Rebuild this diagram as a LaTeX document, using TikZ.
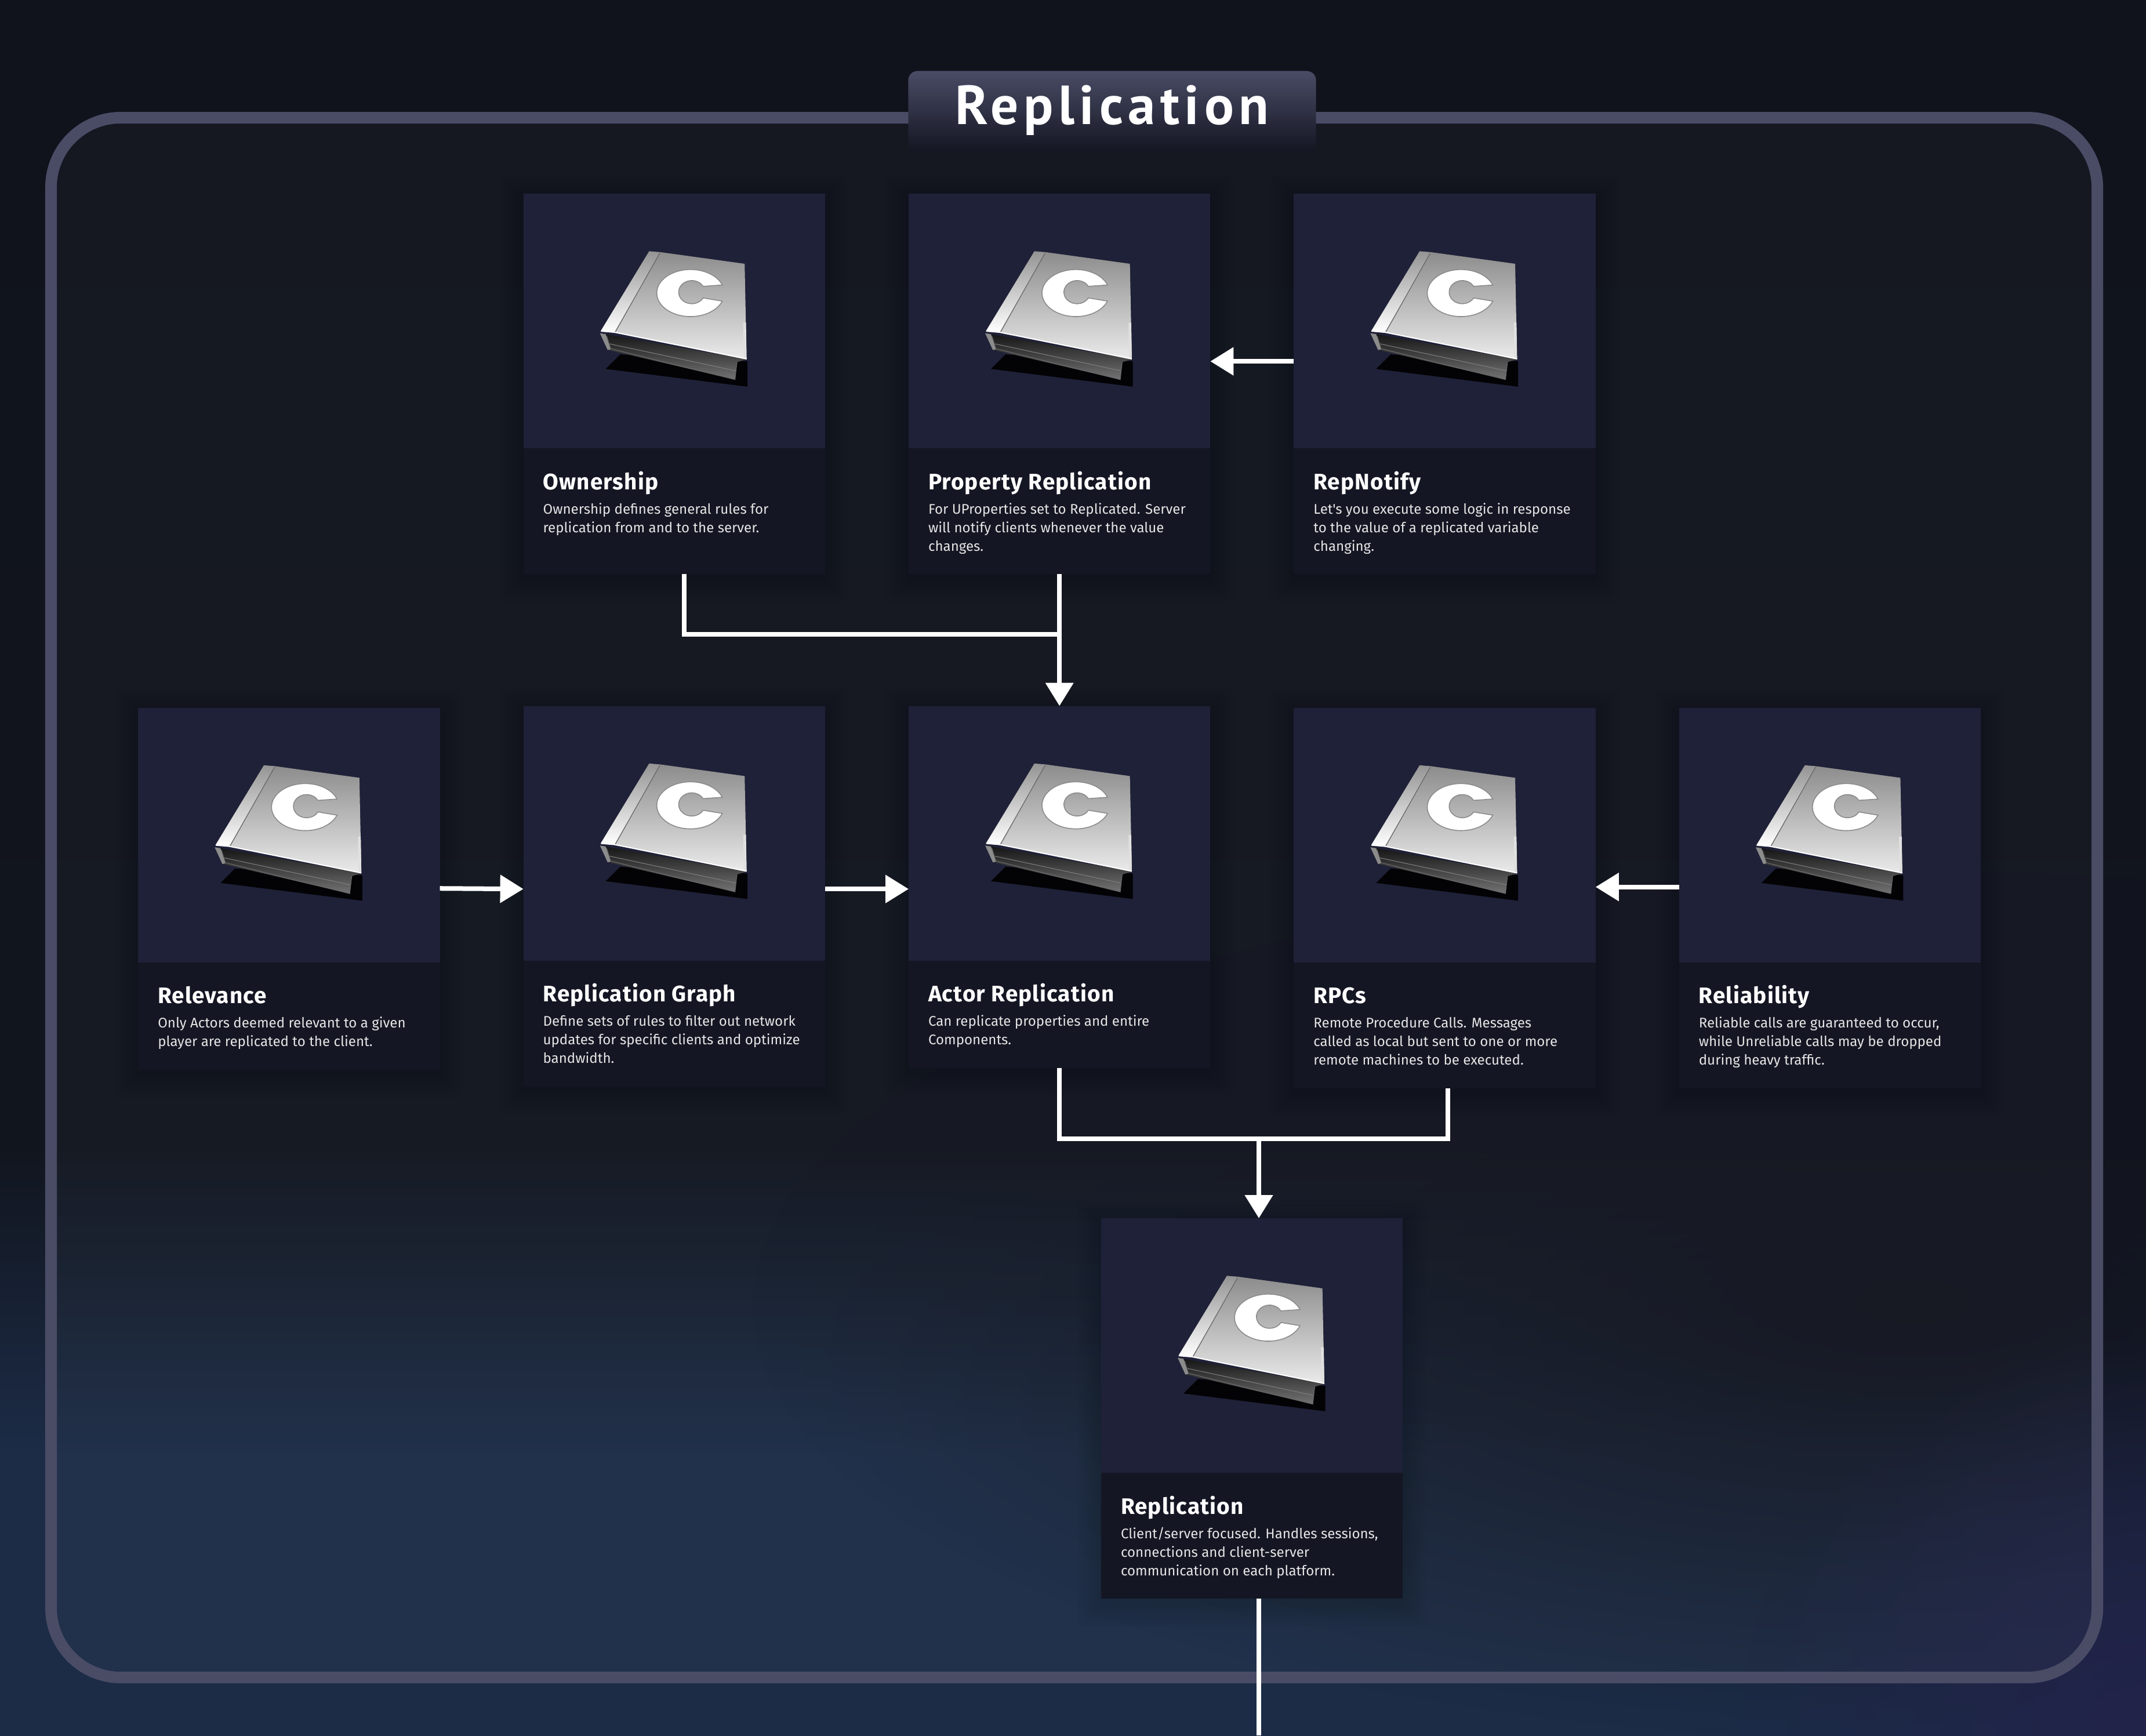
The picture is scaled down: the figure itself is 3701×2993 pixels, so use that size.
\documentclass[tikz,border=0pt]{standalone}
\usepackage{fontspec}
\setmainfont{Fira Sans}
\newfontfamily\bannerfont[LetterSpace=9]{PT Sans}
\newfontfamily\headfont[LetterSpace=3]{Fira Sans}
\newfontfamily\bodyfont{Fira Sans}
\usetikzlibrary{positioning,arrows.meta,fadings}

\definecolor{bgtop}{HTML}{10131C}
\definecolor{bgmid}{HTML}{11151E}
\definecolor{bgblue}{HTML}{1C2C47}
\definecolor{bgdark}{HTML}{12141E}
\definecolor{bgviolet}{HTML}{22234A}
\definecolor{framecol}{HTML}{4A4C66}
\definecolor{imgcol}{HTML}{1F2138}
\definecolor{txtcol}{HTML}{141623}

\pgfdeclarelayer{bg}
\pgfdeclarelayer{shade}
\pgfsetlayers{bg,shade,main}
\pgfdeclareverticalshading{pagebg}{100bp}{color(0bp)=(bgblue); color(33bp)=(bgblue); color(42bp)=(bgmid); color(75bp)=(bgtop); color(100bp)=(bgtop)}
\tikzfading[name=blob,inner color=transparent!0,outer color=transparent!100]

% text part of a card: height, title, lines
\newcommand{\cardtext}[3]{\parbox[t][#1][t]{5.2cm}{\leftskip=.34cm\relax
	{\headfont\bfseries\fontsize{11}{12}\selectfont\color{white}\rule{0pt}{.71cm}#2\par}
	\vspace{.1cm}
	{\bodyfont\fontsize{6.85}{9.1}\selectfont\color{white!90!black}#3\par}}}

\tikzset{
	img/.style = {fill=imgcol, minimum width=5.2cm, minimum height=4.39cm, inner sep=0pt, outer sep=0pt},
	txt/.style = {fill=txtcol, inner sep=0pt, outer sep=0pt},
	wire/.style = {draw=white, line width=.08cm},
	flow/.style = {wire, -{Triangle[length=.4cm,width=.47cm]}},
	book/.pic = {
		\begin{scope}[x=.0033333cm,y=-.0033333cm]
			\fill[black!90!imgcol] (210,695) -- (135,770) -- (870,862) -- (870,730) -- cycle;
			\shade[top color=black!92, bottom color=black!55] (105,585) -- (865,720) -- (815,735) -- (805,825) -- (150,672) -- cycle;
			\draw[black!50, line width=.01cm] (155,640) -- (810,780);
			\draw[black!60, line width=.012cm] (140,600) -- (160,665) -- (805,825) -- (815,735);
			\fill[black!45] (105,585) -- (135,590) -- (160,668) -- (145,672) -- cycle;
			\shade[top color=black!45, bottom color=black!8] (420,165) -- (855,225) -- (865,720) -- (180,580) -- cycle;
			\shade[top color=black!42, bottom color=white] (360,160) -- (420,165) -- (180,580) -- (110,572) -- cycle;
			\draw[black!60, line width=.012cm] (415,170) -- (185,578);
			\fill[black!12] (848,530) -- (862,530) -- (865,720) -- (850,716) -- cycle;
			\draw[white, line width=.02cm] (110,574) -- (180,580) -- (865,718);
			\fill[white, draw=black!45, line width=.016cm] (739,335) arc[start angle=-20, end angle=-340, x radius=175, y radius=122]
				-- (640,402) arc[start angle=30, end angle=330, x radius=68, y radius=60] -- cycle;
		\end{scope}
	}
}

\begin{document}
\begin{tikzpicture}[x=.01cm,y=-.01cm]
	\useasboundingbox (0,0) rectangle (3701,2993);

	\begin{pgfonlayer}{bg}
		\begin{scope}
			\clip (0,0) rectangle (3701,2993);
			\shade[shading=pagebg] (0,0) rectangle (3701,2993);
			\fill[bgdark, path fading=blob] (3300,2250) ellipse [x radius=2000, y radius=750];
			\fill[bgviolet, path fading=blob] (3701,2993) circle [radius=700];
		\end{scope}
		\draw[framecol, line width=.2cm, rounded corners=1.2cm, fill=white, fill opacity=.022] (88,203) rectangle (3617,2893);
	\end{pgfonlayer}

	\node[top color=framecol, bottom color=txtcol!90!bgtop, rounded corners=.16cm, minimum width=7.03cm, inner sep=0pt, outer sep=0pt, text height=.92cm, text depth=.47cm, text=white, font=\bannerfont\bfseries\fontsize{27}{30}\selectfont] (banner) at (1918,192) {Replication};

	% top row
	\node[img, anchor=north west] (prop) at (1567,334) {};
	\node[img, left=1.44cm of prop] (own) {};
	\node[img, right=1.44cm of prop] (repn) {};
	\node[txt, below=0pt of own] (ownt) {\cardtext{2.17cm}{Ownership}{Ownership defines general rules for\\replication from and to the server.}};
	\node[txt, below=0pt of prop] (propt) {\cardtext{2.17cm}{Property Replication}{For UProperties set to Replicated. Server\\will notify clients whenever the value\\changes.}};
	\node[txt, below=0pt of repn] (repnt) {\cardtext{2.17cm}{RepNotify}{Let's you execute some logic in response\\to the value of a replicated variable\\changing.}};

	% middle row
	\node[img, below=2.27cm of propt] (actor) {};
	\node[img, left=1.44cm of actor] (graph) {};
	\node[img, left=1.44cm of graph, yshift=-.03cm] (rele) {};
	\node[img, right=1.44cm of actor, yshift=-.03cm] (rpc) {};
	\node[img, right=1.44cm of rpc] (reli) {};
	\node[txt, below=0pt of rele] (relet) {\cardtext{1.85cm}{Relevance}{Only Actors deemed relevant to a given\\player are replicated to the client.}};
	\node[txt, below=0pt of graph] (grapht) {\cardtext{2.17cm}{Replication Graph}{Define sets of rules to filter out network\\updates for specific clients and optimize\\bandwidth.}};
	\node[txt, below=0pt of actor] (actort) {\cardtext{1.85cm}{Actor Replication}{Can replicate properties and entire\\Components.}};
	\node[txt, below=0pt of rpc] (rpct) {\cardtext{2.17cm}{RPCs}{Remote Procedure Calls. Messages\\called as local but sent to one or more\\remote machines to be executed.}};
	\node[txt, below=0pt of reli] (relit) {\cardtext{2.17cm}{Reliability}{Reliable calls are guaranteed to occur,\\while Unreliable calls may be dropped\\during heavy traffic.}};

	% bottom card
	\node[img, anchor=north west] (repl) at (1899,2101) {};
	\node[txt, below=0pt of repl] (replt) {\cardtext{2.17cm}{Replication}{Client/server focused. Handles sessions,\\connections and client-server\\communication on each platform.}};

	\foreach \c in {own,prop,repn,rele,graph,actor,rpc,reli,repl}
		\pic at ([shift={(.97cm,-.46cm)}]\c.north west) {book};

	\begin{pgfonlayer}{shade}
		\foreach \a/\b in {own/ownt,prop/propt,repn/repnt,rele/relet,graph/grapht,actor/actort,rpc/rpct,reli/relit,repl/replt}
			\foreach \w in {5,12,19,26,33,40}
				\fill[black, opacity=.02, rounded corners=.1cm] ([shift={(-\w,-\w+8)}]\a.north west) rectangle ([shift={(\w,\w+8)}]\b.south east);
	\end{pgfonlayer}

	\coordinate (merge) at ([yshift=-1.04cm]propt.south);
	\coordinate (meet) at (2171,1964);
	\coordinate (out) at (2171,2993);

	\draw[flow] ([yshift=-.695cm]repn.west) -- ([yshift=-.695cm]prop.east);
	\draw[wire] ([xshift=.17cm]ownt.south) |- (merge);
	\draw[flow] (propt.south) -- (actor.north);
	\draw[flow] ([yshift=-.92cm]rele.east) -- ([yshift=-.96cm]graph.west);
	\draw[flow] ([yshift=-.96cm]graph.east) -- ([yshift=-.96cm]actor.west);
	\draw[flow] ([yshift=-.895cm]reli.west) -- ([yshift=-.895cm]rpc.east);
	\draw[wire] (actort.south) |- (meet) -| ([xshift=.055cm]rpct.south);
	\draw[flow] (meet) -- (meet |- repl.north);
	\draw[wire] (meet |- replt.south) -- (out);
\end{tikzpicture}
\end{document}
